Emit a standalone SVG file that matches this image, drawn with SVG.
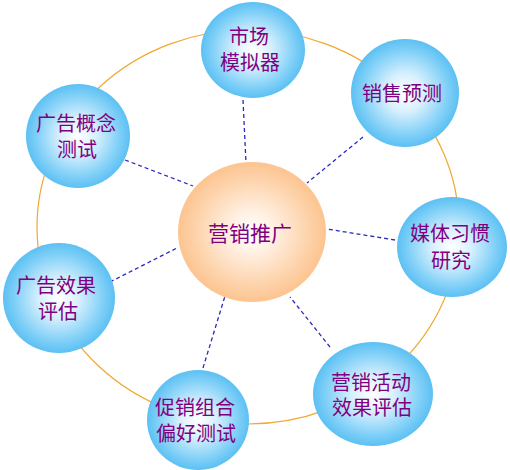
<svg xmlns="http://www.w3.org/2000/svg" width="510" height="470" viewBox="0 0 510 470">
<defs>
<radialGradient id="gBlue" cx="50%" cy="50%" r="50%">
<stop offset="0" stop-color="#FFFFFF"/>
<stop offset="0.35" stop-color="#D8F0FD"/>
<stop offset="0.8" stop-color="#7ECFF7"/>
<stop offset="1" stop-color="#5CC0F3"/>
</radialGradient>
<radialGradient id="gPeach" cx="50%" cy="50%" r="50%">
<stop offset="0" stop-color="#FFFFFF"/>
<stop offset="0.3" stop-color="#FFF0E2"/>
<stop offset="0.8" stop-color="#FDD0A6"/>
<stop offset="1" stop-color="#FCC490"/>
</radialGradient>
<style>
.ring{fill:none;stroke:#F0A830;stroke-width:1.2}
.link{stroke:#2A2AC0;stroke-width:1.3;stroke-dasharray:4 3;fill:none}
.sat{fill:url(#gBlue)}
.hub{fill:url(#gPeach)}
.t{font-family:"Noto Sans CJK SC","Noto Sans CJK TC",sans-serif;font-size:20px;fill:#800080;text-anchor:middle}
.th{font-size:21px}
</style>
</defs>
<rect width="510" height="470" fill="#FFFFFF"/>
<ellipse class="ring" cx="248" cy="227" rx="211" ry="197"/>
<g id="connectors">
<line class="link" x1="243" y1="100" x2="246" y2="163"/>
<line class="link" x1="363" y1="137" x2="307" y2="183"/>
<line class="link" x1="125" y1="160" x2="193" y2="186"/>
<line class="link" x1="395" y1="240" x2="327" y2="229"/>
<line class="link" x1="110" y1="282" x2="177" y2="248"/>
<line class="link" x1="203" y1="368" x2="225" y2="296"/>
<line class="link" x1="330" y1="347" x2="290" y2="297"/>
</g>
<g id="hub">
<ellipse class="hub" cx="252" cy="232" rx="74" ry="70"/>
<text class="t th" x="250" y="241">营销推广</text>
</g>
<g id="node-market">
<ellipse class="sat" cx="253" cy="50" rx="52" ry="48"/>
<text class="t" x="249" y="44">市场</text>
<text class="t" x="250" y="70">模拟器</text>
</g>
<g id="node-sales">
<ellipse class="sat" cx="405" cy="93" rx="54" ry="54"/>
<text class="t" x="402" y="101">销售预测</text>
</g>
<g id="node-media">
<ellipse class="sat" cx="452" cy="247" rx="55" ry="50"/>
<text class="t" x="450" y="241">媒体习惯</text>
<text class="t" x="451" y="268">研究</text>
</g>
<g id="node-campaign">
<ellipse class="sat" cx="373" cy="394" rx="60" ry="52"/>
<text class="t" x="371" y="390">营销活动</text>
<text class="t" x="372" y="415">效果评估</text>
</g>
<g id="node-promo">
<ellipse class="sat" cx="198" cy="420" rx="51" ry="50"/>
<text class="t" x="195" y="415">促销组合</text>
<text class="t" x="196" y="441">偏好测试</text>
</g>
<g id="node-adeffect">
<ellipse class="sat" cx="59" cy="298" rx="56" ry="55"/>
<text class="t" x="56" y="293">广告效果</text>
<text class="t" x="58" y="319">评估</text>
</g>
<g id="node-adconcept">
<ellipse class="sat" cx="78" cy="136" rx="52" ry="52"/>
<text class="t" x="76" y="131">广告概念</text>
<text class="t" x="77" y="157">测试</text>
</g>
</svg>
